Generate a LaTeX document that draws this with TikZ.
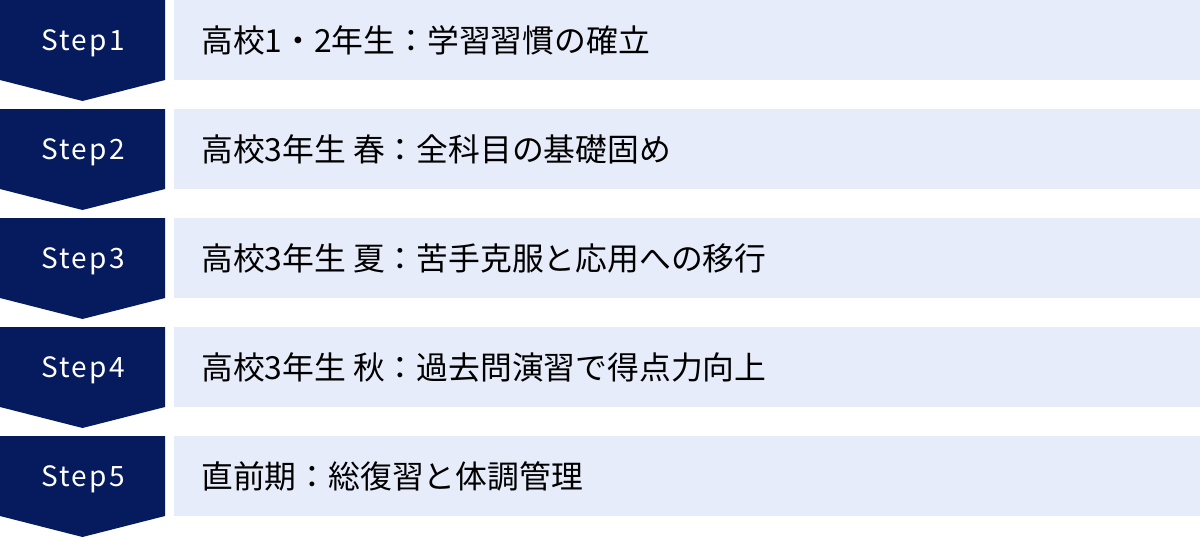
\documentclass[tikz,border=0pt]{standalone}
\usepackage{fontspec}
\setmainfont{Noto Sans CJK JP}
\newfontfamily\stepfont[LetterSpace=8]{Noto Sans CJK JP}
\definecolor{stepnavy}{HTML}{061A5E}
\definecolor{rowblue}{HTML}{E6ECF9}
\tikzset{
  steplabel/.style={text=white,font=\stepfont\fontsize{28}{32}\selectfont},
  rowbox/.style={fill=rowblue,minimum width=1026pt,minimum height=80pt,anchor=north west},
  rowtext/.style={anchor=west,text=black,font=\fontsize{31.8}{36}\selectfont}
}
\begin{document}
\begin{tikzpicture}[x=1pt,y=-1pt]
\tikzstyle{every node}+=[inner sep=0pt]
\useasboundingbox (0,0) rectangle (1200,538);
% step 1
\fill [stepnavy] (0,0) -- (165,0) -- (165,80) -- (82.5,101) -- (0,80) -- cycle;
\node [steplabel] (s1) at (83,43) {Step1};
\node [rowbox] (r1) at (174,0) {};
\node [rowtext] (t1) at (201,40) {高校1・2年生：学習習慣の確立};
% step 2
\fill [stepnavy] (0,109) -- (165,109) -- (165,189) -- (82.5,210) -- (0,189) -- cycle;
\node [steplabel] (s2) at (83,152) {Step2};
\node [rowbox] (r2) at (174,109) {};
\node [rowtext] (t2) at (201,149) {高校3年生 春：全科目の基礎固め};
% step 3
\fill [stepnavy] (0,218) -- (165,218) -- (165,298) -- (82.5,319) -- (0,298) -- cycle;
\node [steplabel] (s3) at (83,261) {Step3};
\node [rowbox] (r3) at (174,218) {};
\node [rowtext] (t3) at (201,258) {高校3年生 夏：苦手克服と応用への移行};
% step 4
\fill [stepnavy] (0,327) -- (165,327) -- (165,407) -- (82.5,428) -- (0,407) -- cycle;
\node [steplabel] (s4) at (83,370) {Step4};
\node [rowbox] (r4) at (174,327) {};
\node [rowtext] (t4) at (201,367) {高校3年生 秋：過去問演習で得点力向上};
% step 5
\fill [stepnavy] (0,436) -- (165,436) -- (165,516) -- (82.5,537) -- (0,516) -- cycle;
\node [steplabel] (s5) at (83,479) {Step5};
\node [rowbox] (r5) at (174,436) {};
\node [rowtext] (t5) at (201,476) {直前期：総復習と体調管理};
\end{tikzpicture}
\end{document}
